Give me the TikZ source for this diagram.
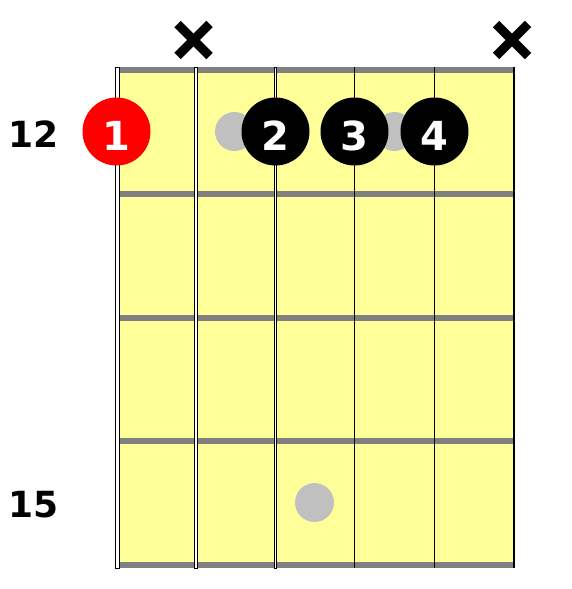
\documentclass[tikz,border=0pt]{standalone}
\usepackage{fontspec}
\setmainfont{DejaVu Sans}
\definecolor{board}{RGB}{255,255,153}
\definecolor{fretgray}{RGB}{128,128,128}
\definecolor{dotgray}{RGB}{192,192,192}
\definecolor{fingerred}{RGB}{255,0,0}
\tikzset{
  fretbar/.style={fretgray,line width=6pt},
  woundstr/.style={draw=black,fill=white,line width=0.8pt},
  plainstr/.style={black,line width=1.2pt},
  inlay/.style={circle,fill=dotgray,minimum size=39pt,inner sep=0pt},
  finger/.style={circle,fill=black,minimum size=68pt,inner sep=0pt,text=white,font=\bfseries\fontsize{40}{40}\selectfont},
  redfinger/.style={finger,fill=fingerred},
  mutemark/.style={line width=9pt,black},
  fretlabel/.style={inner sep=0pt,font=\bfseries\fontsize{36}{36}\selectfont}
}
\begin{document}
\begin{tikzpicture}[x=1pt,y=-1pt]
\useasboundingbox (0,0) rectangle (572,589);
% board
\fill[board] (117,67) rectangle (514,568);
% frets
\foreach \y in {70,194,317.5,441,565}
  \draw[fretbar] (119,\y) -- (514,\y);
% strings
\draw[woundstr] (115.2,67) rectangle (119.4,568);
\draw[woundstr] (194.4,67) rectangle (197.6,568);
\draw[woundstr] (274.4,67) rectangle (276.6,568);
\draw[plainstr] (354.5,67) -- (354.5,568);
\draw[plainstr] (434.5,67) -- (434.5,568);
\draw[plainstr] (514,67) -- (514,568);
% inlays
\node[inlay] (d1) at (234.5,131.5) {};
\node[inlay] (d2) at (394.5,131.5) {};
\node[inlay] (d3) at (314.5,502.5) {};
% fingers
\node[redfinger] (f1) at (116.5,131.5) {};
\node[finger] (f2) at (275.5,131.5) {};
\node[finger] (f3) at (354.5,131.5) {};
\node[finger] (f4) at (434.5,131.5) {};
\node[text=white,inner sep=0pt,font=\bfseries\fontsize{40}{40}\selectfont] (n1) at (116.5,135.5) {1};
\node[text=white,inner sep=0pt,font=\bfseries\fontsize{40}{40}\selectfont] (n2) at (275.5,135.5) {2};
\node[text=white,inner sep=0pt,font=\bfseries\fontsize{40}{40}\selectfont] (n3) at (354.5,135.5) {3};
\node[text=white,inner sep=0pt,font=\bfseries\fontsize{40}{40}\selectfont] (n4) at (434.5,135.5) {4};
% mute marks
\coordinate (xa) at (193.5,40);
\coordinate (xb) at (512,40);
\draw[mutemark] ([shift={(-16,-16)}]xa) -- ([shift={(16,16)}]xa);
\draw[mutemark] ([shift={(-16,16)}]xa) -- ([shift={(16,-16)}]xa);
\draw[mutemark] ([shift={(-16,-16)}]xb) -- ([shift={(16,16)}]xb);
\draw[mutemark] ([shift={(-16,16)}]xb) -- ([shift={(16,-16)}]xb);
% fret labels
\node[fretlabel] (l12) at (33.5,134) {12};
\node[fretlabel] (l15) at (33.5,504.5) {15};
\end{tikzpicture}
\end{document}
